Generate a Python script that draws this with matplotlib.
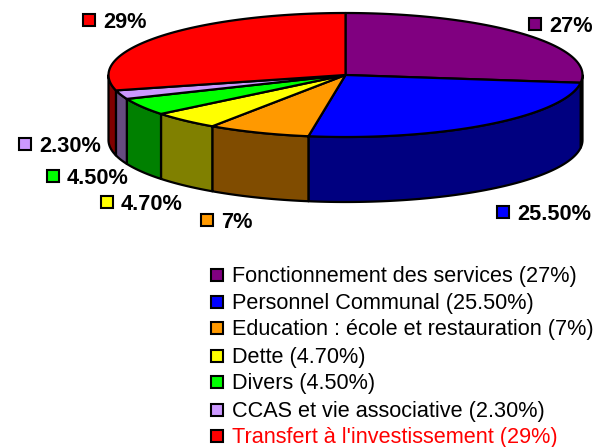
import matplotlib
matplotlib.use("Agg")
import matplotlib.pyplot as plt
import numpy as np
from matplotlib.patches import Polygon, Rectangle

plt.rcParams['font.family'] = ['Liberation Sans', 'DejaVu Sans']

# Chart data
categories = ["Fonctionnement des services (27%)", "Personnel Communal (25.50%)",
              "Education : école et restauration (7%)", "Dette (4.70%)", "Divers (4.50%)",
              "CCAS et vie associative (2.30%)", "Transfert à l'investissement (29%)"]
values = [27, 25.5, 7, 4.7, 4.5, 2.3, 29]
value_labels = ["27%", "25.50%", "7%", "4.70%", "4.50%", "2.30%", "29%"]

top_colors = ["#800080", "#0000FF", "#FF9900", "#FFFF00", "#00FF00", "#CC99FF", "#FF0000"]
side_colors = ["#400040", "#000080", "#804C00", "#808000", "#008000", "#664C80", "#800000"]

# Pie geometry, in pixels
cx, cy = 345.5, 75
rx, ry = 237, 62
depth = 65
edge = 1.6

# Where the value labels sit (left edge of the swatch, centre y)
label_x = [529, 497, 201, 101, 47, 19, 83]
label_y = [24, 212, 220, 202, 176, 144, 20]
legend_y = [275, 302, 328, 356, 382, 410, 436]

fig = plt.figure(figsize=(5.94, 4.47), dpi=100)
ax = fig.add_axes([0, 0, 1, 1])
ax.set_xlim(0, 594)
ax.set_ylim(447, 0)
ax.axis('off')


def arc(a0, a1, dy=0):
    # angles in degrees, clockwise from the top of the pie
    t = np.radians(np.linspace(a0, a1, 120))
    return np.column_stack([cx + rx * np.sin(t), cy - ry * np.cos(t) + dy])


edges = np.concatenate([[0], np.cumsum(values)]) / sum(values) * 360

# Side wall, only the front half of the rim shows
for i in range(len(values)):
    a0 = max(edges[i], 90)
    a1 = min(edges[i + 1], 270)
    if a1 <= a0:
        continue
    pts = np.vstack([arc(a0, a1), arc(a0, a1, depth)[::-1]])
    ax.add_patch(Polygon(pts, closed=True, fc=side_colors[i], ec='black', lw=edge, joinstyle='round', zorder=2))

# Top face
for i in range(len(values)):
    pts = np.vstack([[cx, cy], arc(edges[i], edges[i + 1])])
    ax.add_patch(Polygon(pts, closed=True, fc=top_colors[i], ec='black', lw=edge, joinstyle='round', zorder=3))


def swatch(x, y, color):
    ax.add_patch(Rectangle((x, y - 6), 12, 12, fc=color, ec='black', lw=1.5, zorder=4))


# Value labels
for x, y, text, color in zip(label_x, label_y, value_labels, top_colors):
    swatch(x, y, color)
    ax.text(x + 20, y + 2.5, text, fontsize=15.7, fontweight='bold', ha='left', va='center', color='black')

# Legend
for y, name, color in zip(legend_y, categories, top_colors):
    swatch(211, y, color)
    text_color = 'red' if color == "#FF0000" else 'black'
    ax.text(232, y + 1.5, name, fontsize=15.6, ha='left', va='center', color=text_color)

fig.savefig("out.png", dpi=100)
